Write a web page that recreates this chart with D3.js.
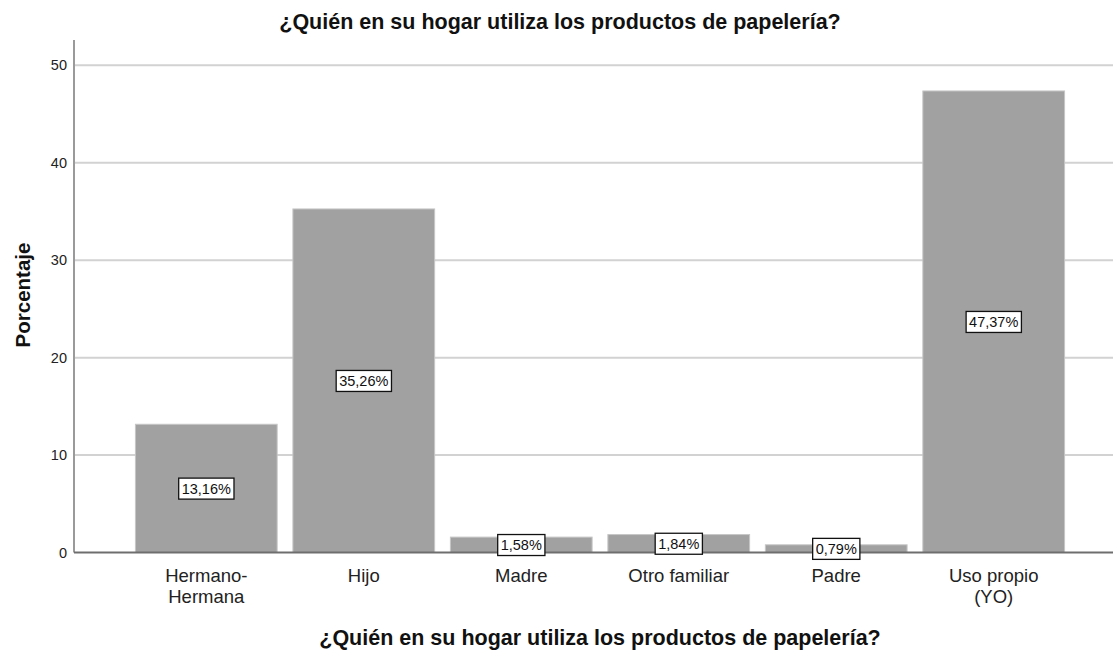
<!DOCTYPE html>
<html>
<head>
<meta charset="utf-8">
<script src="https://cdn.jsdelivr.net/npm/d3@7"></script>
<style>
  html, body { margin: 0; padding: 0; background: #fff; }
  svg { display: block; font-family: Arial, "Liberation Sans", sans-serif; }
</style>
</head>
<body>
<svg id="chart" width="1113" height="650"></svg>
<script>
// Categories and percentages
const categories = ["Hermano-\nHermana", "Hijo", "Madre", "Otro familiar", "Padre", "Uso propio\n(YO)"];
const percentages = [13.16, 35.26, 1.58, 1.84, 0.79, 47.37];
const yTicks = [0, 10, 20, 30, 40, 50];
const chartTitle = "¿Quién en su hogar utiliza los productos de papelería?";
const yTitle = "Porcentaje";

const W = 1113, H = 650;
const plot = { left: 74, right: 1126, top: 40, bottom: 552.5 };

const svg = d3.select("#chart");

const x = d3.scaleBand()
  .domain(categories)
  .range([plot.left, plot.right])
  .paddingInner(0.1)
  .paddingOuter(0.39);

const y = d3.scaleLinear()
  .domain([0, 52.6])
  .range([plot.bottom, plot.top]);

// Horizontal gridlines
svg.append("g")
  .selectAll("line")
  .data(yTicks.filter(d => d > 0))
  .join("line")
  .attr("x1", plot.left)
  .attr("x2", W)
  .attr("y1", d => y(d))
  .attr("y2", d => y(d))
  .attr("stroke", "#d2d2d2")
  .attr("stroke-width", 2);

// Y axis with tick labels only
const yAxis = d3.axisLeft(y).tickValues(yTicks).tickSize(0).tickPadding(7).tickFormat(d3.format("d"));
const gy = svg.append("g")
  .attr("transform", `translate(${plot.left},0)`)
  .call(yAxis);
gy.select(".domain").remove();
gy.selectAll("text")
  .attr("font-size", 14.5)
  .attr("fill", "#222");

svg.append("line")
  .attr("x1", plot.left).attr("x2", plot.left)
  .attr("y1", plot.top).attr("y2", plot.bottom)
  .attr("stroke", "#9a9a9a")
  .attr("stroke-width", 2);

// Bars
svg.append("g")
  .selectAll("rect")
  .data(categories.map((c, i) => ({ c, v: percentages[i] })))
  .join("rect")
  .attr("x", d => x(d.c))
  .attr("y", d => y(d.v))
  .attr("width", x.bandwidth())
  .attr("height", d => y(0) - y(d.v))
  .attr("fill", "#a1a1a1")
  .attr("stroke", "#c6c6c6")
  .attr("stroke-width", 1);

// Baseline
svg.append("line")
  .attr("x1", plot.left).attr("x2", W)
  .attr("y1", plot.bottom).attr("y2", plot.bottom)
  .attr("stroke", "#6e6e6e")
  .attr("stroke-width", 2);

// Value labels in boxes at the middle of each bar
const fmt = v => d3.format(".2f")(v).replace(".", ",") + "%";
const labels = svg.append("g")
  .selectAll("g")
  .data(categories.map((c, i) => ({ c, v: percentages[i] })))
  .join("g")
  .attr("transform", d => `translate(${x(d.c) + x.bandwidth() / 2},${(y(0) + y(d.v)) / 2})`);

labels.append("text")
  .attr("text-anchor", "middle")
  .attr("dy", "0.36em")
  .attr("font-size", 14.5)
  .attr("fill", "#111")
  .text(d => fmt(d.v));

labels.each(function () {
  const g = d3.select(this);
  const bb = g.select("text").node().getBBox();
  g.insert("rect", "text")
    .attr("x", bb.x - 3)
    .attr("y", bb.y - 2.5)
    .attr("width", bb.width + 6)
    .attr("height", bb.height + 5)
    .attr("fill", "#fff")
    .attr("stroke", "#111")
    .attr("stroke-width", 1.3);
});

// Category labels, one text element per line
const lineGap = 21;
svg.append("g")
  .selectAll("text")
  .data(categories.flatMap(c => c.split("\n").map((line, i) => ({ c, line, i }))))
  .join("text")
  .attr("x", d => x(d.c) + x.bandwidth() / 2)
  .attr("y", d => 582 + d.i * lineGap)
  .attr("text-anchor", "middle")
  .attr("font-size", 18.5)
  .attr("fill", "#222")
  .text(d => d.line);

// Chart title
svg.append("text")
  .attr("x", 560).attr("y", 29)
  .attr("text-anchor", "middle")
  .attr("font-size", 21.5)
  .attr("font-weight", "bold")
  .attr("fill", "#111")
  .text(chartTitle);

// X axis title, centred under the plot area
svg.append("text")
  .attr("x", (plot.left + plot.right) / 2).attr("y", 645)
  .attr("text-anchor", "middle")
  .attr("font-size", 21.5)
  .attr("font-weight", "bold")
  .attr("fill", "#111")
  .text(chartTitle);

// Y axis title
svg.append("text")
  .attr("transform", `translate(30,295) rotate(-90)`)
  .attr("text-anchor", "middle")
  .attr("font-size", 20.5)
  .attr("font-weight", "bold")
  .attr("fill", "#111")
  .text(yTitle);
</script>
</body>
</html>
